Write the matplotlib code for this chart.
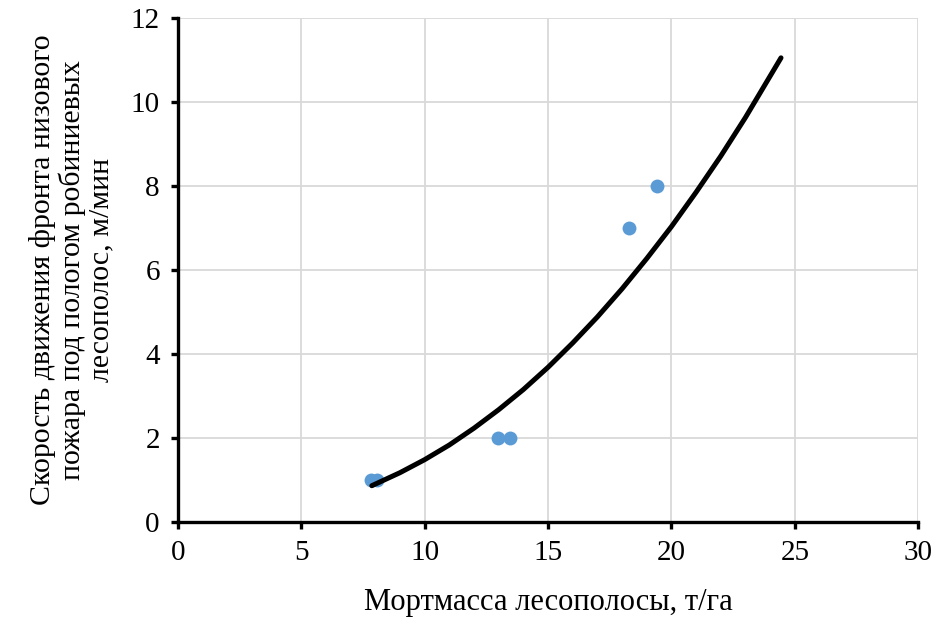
import matplotlib
matplotlib.use("Agg")
import matplotlib.pyplot as plt

# measured points
mass = [7.82, 8.07, 12.97, 13.46, 18.28, 19.42]
speed = [1.0, 1.0, 2.0, 2.0, 7.0, 8.0]

# trend line
trend_x = [7.86, 9, 10, 11, 12, 13, 14, 15, 16, 17, 18, 19, 20, 21, 22, 23, 24.44]
trend_y = [0.86, 1.17, 1.48, 1.83, 2.23, 2.67, 3.15, 3.68, 4.26, 4.88, 5.55,
           6.27, 7.03, 7.85, 8.71, 9.63, 11.05]

x_ticks = [0, 5, 10, 15, 20, 25, 30]
y_ticks = [0, 2, 4, 6, 8, 10, 12]

plt.rcParams['font.family'] = ['Liberation Serif', 'DejaVu Serif']

fig = plt.figure(figsize=(9.36, 6.19), dpi=100)
ax = fig.add_axes([0.190, 0.157, 0.791, 0.814])

ax.grid(True, color="#d9d9d9", linewidth=1.3)
ax.set_axisbelow(True)

ax.scatter(mass, speed, s=100, color="#5b9bd5", zorder=3, linewidths=0)
ax.plot(trend_x, trend_y, color="black", linewidth=3.6,
        solid_capstyle="round", solid_joinstyle="round", zorder=4)

ax.set_xlim(0, 30)
ax.set_ylim(0, 12)
ax.set_xticks(x_ticks)
ax.set_yticks(y_ticks)

for side in ["top", "right"]:
    ax.spines[side].set_visible(False)
for side in ["left", "bottom"]:
    ax.spines[side].set_linewidth(2.4)
    ax.spines[side].set_color("black")

ax.tick_params(axis="both", direction="out", length=5, width=2.4,
               labelsize=21, pad=8)

ax.set_xlabel("Мортмасса лесополосы, т/га", fontsize=22, labelpad=16)
ax.set_ylabel("Скорость движения фронта низового\nпожара под пологом робиниевых\nлесополос, м/мин",
              fontsize=21.5, labelpad=12, linespacing=1.12)

fig.savefig("out.png", dpi=100)
